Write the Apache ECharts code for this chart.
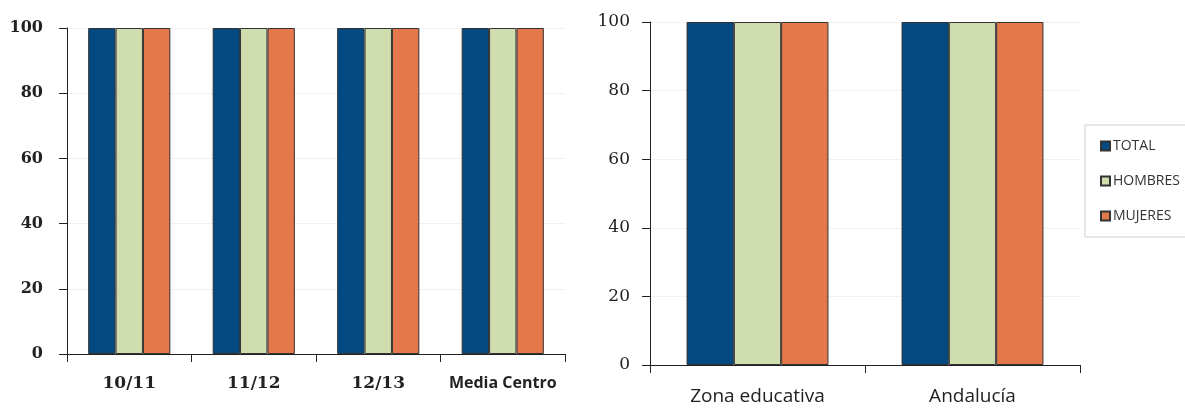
<!DOCTYPE html>
<html>
<head>
<meta charset="utf-8">
<script src="https://cdn.jsdelivr.net/npm/echarts@6/dist/echarts.min.js"></script>
<style>html,body{margin:0;padding:0;background:#fff}#c{width:1185px;height:408px}</style>
</head>
<body>
<div id="c"></div>
<script>
var seriesNames = ['TOTAL', 'HOMBRES', 'MUJERES'];
var leftCategories = ['10/11', '11/12', '12/13', 'Media Centro'];
var leftTotal = [100, 100, 100, 100];
var leftHombres = [100, 100, 100, 100];
var leftMujeres = [100, 100, 100, 100];
var rightCategories = ['Zona educativa', 'Andalucía'];
var rightTotal = [100, 100];
var rightHombres = [100, 100];
var rightMujeres = [100, 100];
var yTicks = [0, 20, 40, 60, 80, 100];

var colors = ['#034A82', '#D0DDAE', '#E4784A'];
var chart = echarts.init(document.getElementById('c'));

function yAxis(gi, font, weight, margin) {
  return {
    type: 'value', gridIndex: gi, min: yTicks[0], max: yTicks[yTicks.length - 1], interval: 20,
    axisLine: {show: true, lineStyle: {color: '#222', width: 1}},
    axisTick: {show: true, length: 8, lineStyle: {color: '#222'}},
    splitLine: {show: true, lineStyle: {color: '#f1f1f1'}},
    axisLabel: {margin: margin, fontFamily: 'DejaVu Serif', fontWeight: weight, fontSize: font, color: '#222'}
  };
}
function xAxis(gi, cats, label) {
  return {
    type: 'category', gridIndex: gi, data: cats,
    axisLine: {show: true, lineStyle: {color: '#222', width: 1}},
    axisTick: {show: true, length: 8, alignWithLabel: false, lineStyle: {color: '#222'}},
    axisLabel: label
  };
}
function bar(name, data, xi, ci) {
  return {
    name: name, type: 'bar', xAxisIndex: xi, yAxisIndex: xi, data: data,
    barGap: '0%', barCategoryGap: '34%',
    itemStyle: {color: colors[ci], borderColor: '#333', borderWidth: 1}
  };
}

chart.setOption({
  animation: false,
  grid: [
    {left: 67, right: 620, top: 28, bottom: 54},
    {left: 650, right: 105, top: 22, bottom: 43}
  ],
  legend: {
    orient: 'vertical', left: 1085, top: 125,
    data: seriesNames,
    icon: 'rect',
    padding: [14, 14, 14, 15],
    borderColor: '#cfcfcf', borderWidth: 1,
    itemWidth: 9, itemHeight: 9, itemGap: 21,
    textStyle: {fontFamily: 'Open Sans', fontSize: 14, color: '#333', padding: [0, 0, 0, -2]}
  },
  xAxis: [
    xAxis(0, leftCategories, {
      margin: 21, interval: 0, color: '#222',
      formatter: function (v) { return /^[0-9\/]+$/.test(v) ? '{s|' + v + '}' : '{b|' + v + '}'; },
      rich: {
        s: {fontFamily: 'DejaVu Serif', fontWeight: 'bold', fontSize: 17, color: '#222'},
        b: {fontFamily: 'Open Sans', fontWeight: 'bold', fontSize: 16, color: '#222'}
      }
    }),
    xAxis(1, rightCategories, {margin: 22, interval: 0, color: '#222', fontFamily: 'Open Sans', fontSize: 19})
  ],
  yAxis: [
    yAxis(0, 16, 'bold', 24),
    yAxis(1, 17, 'normal', 20)
  ],
  series: [
    bar(seriesNames[0], leftTotal, 0, 0),
    bar(seriesNames[1], leftHombres, 0, 1),
    bar(seriesNames[2], leftMujeres, 0, 2),
    bar(seriesNames[0], rightTotal, 1, 0),
    bar(seriesNames[1], rightHombres, 1, 1),
    bar(seriesNames[2], rightMujeres, 1, 2)
  ]
});
</script>
</body>
</html>
